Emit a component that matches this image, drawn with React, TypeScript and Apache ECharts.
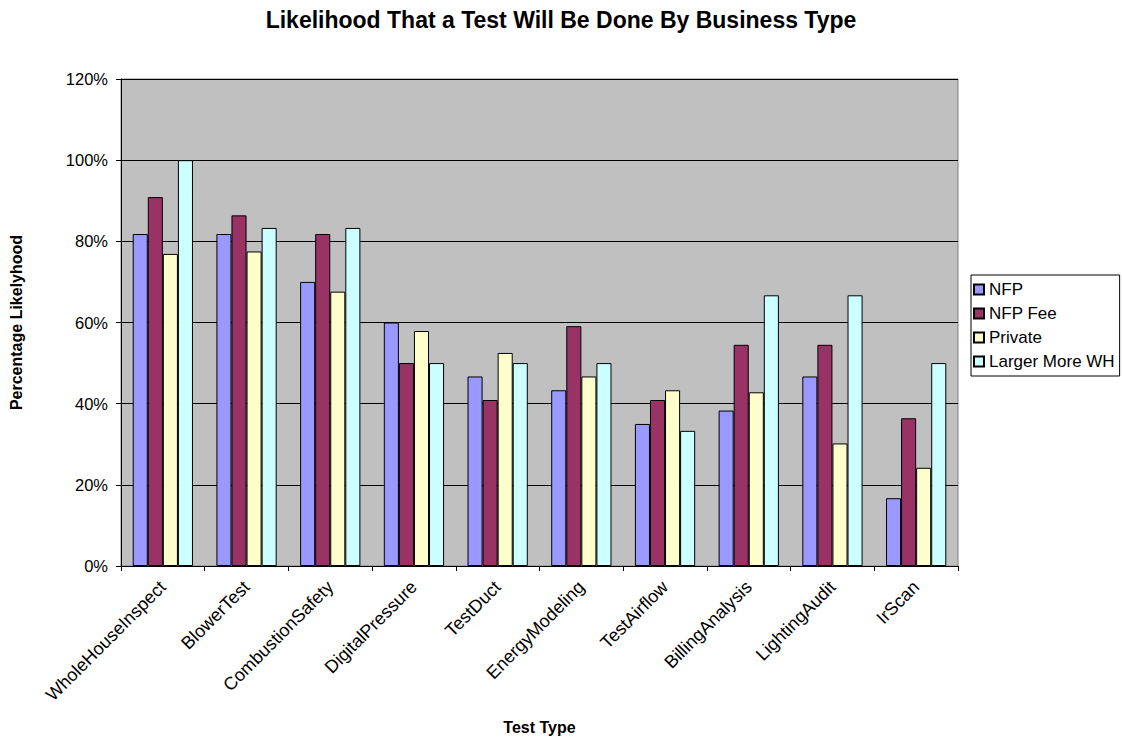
import React, { useEffect, useRef } from "react";
import * as echarts from "echarts";

const categories = [
  "WholeHouseInspect",
  "BlowerTest",
  "CombustionSafety",
  "DigitalPressure",
  "TestDuct",
  "EnergyModeling",
  "TestAirflow",
  "BillingAnalysis",
  "LightingAudit",
  "IrScan",
];

const nfp = [0.818, 0.818, 0.7, 0.6, 0.467, 0.433, 0.35, 0.383, 0.467, 0.167];
const nfpFee = [0.909, 0.864, 0.818, 0.5, 0.409, 0.591, 0.409, 0.545, 0.545, 0.364];
const privateVals = [0.769, 0.775, 0.676, 0.579, 0.525, 0.467, 0.433, 0.428, 0.302, 0.242];
const largerMoreWH = [1.0, 0.833, 0.833, 0.5, 0.5, 0.5, 0.333, 0.667, 0.667, 0.5];

const seriesNames = ["NFP", "NFP Fee", "Private", "Larger More WH"];
const seriesColors = ["#9999FF", "#993366", "#FFFFCC", "#CCFFFF"];
const yTicks = [0, 0.2, 0.4, 0.6, 0.8, 1.0, 1.2];

const FONT = "'Liberation Sans', Arial, sans-serif";

export default function App() {
  const ref = useRef<HTMLDivElement>(null);
  useEffect(() => {
    if (!ref.current) return;
    const chart = echarts.init(ref.current, undefined, { renderer: "svg" });
    const data = [nfp, nfpFee, privateVals, largerMoreWH];
    chart.setOption({
      animation: false,
      backgroundColor: "#FFFFFF",
      textStyle: { fontFamily: FONT, color: "#000" },
      title: {
        text: "Likelihood That a Test Will Be Done By Business Type",
        left: "center",
        top: 3,
        textStyle: { fontFamily: FONT, fontSize: 23, fontWeight: "bold", color: "#000" },
      },
      legend: {
        orient: "vertical",
        left: 971,
        top: 275,
        itemWidth: 10,
        itemHeight: 10,
        itemGap: 7,
        padding: [6, 5, 6, 2],
        borderColor: "#000",
        borderWidth: 1,
        backgroundColor: "#FFFFFF",
        icon: "rect",
        textStyle: { fontFamily: FONT, fontSize: 17, lineHeight: 17, color: "#000" },
        data: seriesNames,
      },
      grid: {
        left: 119,
        right: 164,
        top: 79,
        bottom: 169,
        show: true,
        backgroundColor: "#C0C0C0",
        borderColor: "#808080",
        borderWidth: 1,
      },
      xAxis: {
        type: "category",
        data: categories,
        boundaryGap: true,
        name: "Test Type",
        nameLocation: "middle",
        nameGap: 153,
        nameTextStyle: { fontFamily: FONT, fontSize: 16, fontWeight: "bold", color: "#000" },
        axisLine: { show: true, lineStyle: { color: "#000", width: 1 } },
        axisTick: { show: true, alignWithLabel: false, length: 5, lineStyle: { color: "#000" } },
        axisLabel: {
          rotate: 45,
          interval: 0,
          fontFamily: FONT,
          fontSize: 18,
          color: "#000",
          margin: 18,
        },
        splitLine: { show: false },
      },
      yAxis: {
        type: "value",
        min: 0,
        max: 1.2,
        interval: 0.2,
        name: "Percentage Likelyhood",
        nameLocation: "middle",
        nameGap: 97,
        nameRotate: 90,
        nameTextStyle: { fontFamily: FONT, fontSize: 16, fontWeight: "bold", color: "#000" },
        axisLine: { show: true, lineStyle: { color: "#000", width: 1 } },
        axisTick: { show: true, length: 5, lineStyle: { color: "#000" } },
        axisLabel: {
          fontFamily: FONT,
          fontSize: 16.5,
          color: "#000",
          margin: 13,
          formatter: (v: number) => {
            const t = yTicks.find((x) => Math.abs(x - v) < 1e-6);
            return Math.round((t ?? v) * 100) + "%";
          },
        },
        splitLine: { show: true, lineStyle: { color: "#000", width: 1 } },
      },
      series: seriesNames.map((name, i) => ({
        name,
        type: "bar",
        data: data[i],
        barGap: "0%",
        barCategoryGap: "28%",
        itemStyle: { color: seriesColors[i], borderColor: "#000", borderWidth: 1 },
      })),
    });
    return () => chart.dispose();
  }, []);
  return (
    <div
      ref={ref}
      style={{ position: "fixed", left: 0, top: 0, width: 1122, height: 740 }}
    />
  );
}
